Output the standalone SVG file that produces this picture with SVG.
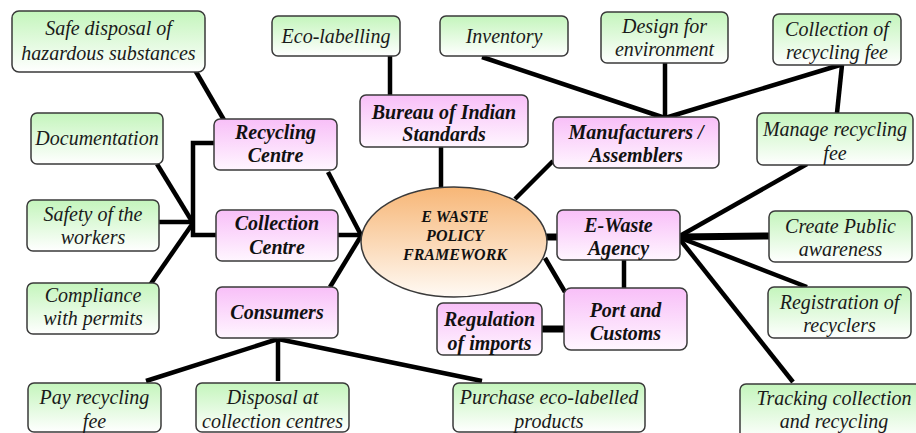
<svg xmlns="http://www.w3.org/2000/svg" width="916" height="433" viewBox="0 0 916 433">
<defs>
<linearGradient id="gG" x1="0" y1="0" x2="0" y2="1"><stop offset="0" stop-color="#c4f5bc"/><stop offset="1" stop-color="#ffffff"/></linearGradient>
<linearGradient id="gP" x1="0" y1="0" x2="0" y2="1"><stop offset="0" stop-color="#f8bff8"/><stop offset="1" stop-color="#fff6ff"/></linearGradient>
<linearGradient id="gO" x1="0" y1="0" x2="0" y2="1"><stop offset="0" stop-color="#f7b676"/><stop offset="1" stop-color="#fffaf4"/></linearGradient>
</defs>
<style>
.g{fill:url(#gG);stroke:#3a3a3a;stroke-width:1.5}
.p{fill:url(#gP);stroke:#3a3a3a;stroke-width:1.5}
.e{fill:url(#gO);stroke:#3a3a3a;stroke-width:1.5}
.tg{font-family:"Liberation Serif","Times New Roman",serif;font-style:italic;font-size:20px;fill:#1a1a1a;text-anchor:middle}
.tp{font-family:"Liberation Serif","Times New Roman",serif;font-style:italic;font-weight:bold;font-size:20px;fill:#111;text-anchor:middle}
.te{font-family:"Liberation Serif","Times New Roman",serif;font-style:italic;font-weight:bold;font-size:16px;fill:#111;text-anchor:middle}
.c line,.c polyline{stroke:#000;stroke-width:4.5;fill:none;stroke-linecap:butt}
.c .t{stroke-width:7}
</style>
<rect width="916" height="433" fill="#fff"/>
<g class="c" id="connectors">
<line x1="195" y1="70" x2="224" y2="120"/>
<polyline points="214,143 193,143 193,235 216,235"/>
<line x1="157" y1="164" x2="193" y2="223"/>
<line x1="159" y1="222" x2="193" y2="222"/>
<line x1="150" y1="285" x2="193" y2="223"/>
<line x1="328" y1="172" x2="361" y2="235"/>
<line x1="338" y1="235" x2="362" y2="235"/>
<line x1="330" y1="287" x2="361" y2="236"/>
<line x1="278" y1="339" x2="146" y2="381"/>
<line x1="278" y1="339" x2="278" y2="381"/>
<line x1="278" y1="339" x2="482" y2="381"/>
<line x1="390" y1="56" x2="390" y2="95"/>
<line x1="441" y1="147" x2="441" y2="188"/>
<line x1="515" y1="199" x2="553" y2="161"/>
<line x1="482" y1="57" x2="665" y2="118"/>
<line x1="665" y1="63" x2="665" y2="118"/>
<line x1="840" y1="65" x2="665" y2="118"/>
<line x1="842" y1="65" x2="837" y2="113"/>
<line class="t" x1="546" y1="237" x2="557" y2="237"/>
<line x1="545" y1="258" x2="565" y2="292"/>
<line x1="624" y1="260" x2="624" y2="288"/>
<line class="t" x1="542" y1="329" x2="564" y2="329"/>
<line x1="678" y1="237" x2="807" y2="164"/>
<line class="t" x1="678" y1="237" x2="769" y2="236"/>
<line x1="678" y1="237" x2="807" y2="287"/>
<line x1="678" y1="237" x2="793" y2="382"/>
</g>
<g id="safe"><rect class="g" x="12" y="11" width="193" height="61" rx="7"/><text class="tg" x="108.5" y="35">Safe disposal of</text><text class="tg" x="108.5" y="60">hazardous substances</text></g>
<g id="documentation"><rect class="g" x="31" y="113" width="132" height="51" rx="6"/><text class="tg" x="97" y="145">Documentation</text></g>
<g id="safety"><rect class="g" x="27" y="200" width="132" height="51" rx="6"/><text class="tg" x="93" y="221">Safety of the</text><text class="tg" x="93" y="244">workers</text></g>
<g id="compliance"><rect class="g" x="27" y="283" width="132" height="51" rx="6"/><text class="tg" x="93" y="302">Compliance</text><text class="tg" x="93" y="325">with permits</text></g>
<g id="eco"><rect class="g" x="272" y="16" width="128" height="40" rx="6"/><text class="tg" x="336" y="43">Eco-labelling</text></g>
<g id="inventory"><rect class="g" x="440" y="16" width="128" height="40" rx="6"/><text class="tg" x="504" y="43">Inventory</text></g>
<g id="design"><rect class="g" x="601" y="12" width="127" height="51" rx="6"/><text class="tg" x="664.5" y="33">Design for</text><text class="tg" x="664.5" y="56">environment</text></g>
<g id="collectionfee"><rect class="g" x="773" y="14" width="128" height="51" rx="6"/><text class="tg" x="837" y="36">Collection of</text><text class="tg" x="837" y="59">recycling fee</text></g>
<g id="manage"><rect class="g" x="757" y="113" width="156" height="52" rx="6"/><text class="tg" x="835" y="136">Manage recycling</text><text class="tg" x="835" y="160">fee</text></g>
<g id="create"><rect class="g" x="769" y="211" width="143" height="51" rx="6"/><text class="tg" x="840.5" y="233">Create Public</text><text class="tg" x="840.5" y="256">awareness</text></g>
<g id="registration"><rect class="g" x="768" y="287" width="143" height="51" rx="6"/><text class="tg" x="839.5" y="309">Registration of</text><text class="tg" x="839.5" y="332">recyclers</text></g>
<g id="tracking"><rect class="g" x="740" y="384" width="184" height="56" rx="6"/><text class="tg" x="834" y="405">Tracking collection</text><text class="tg" x="834" y="428">and recycling</text></g>
<g id="pay"><rect class="g" x="28" y="383" width="133" height="49" rx="6"/><text class="tg" x="94.5" y="404">Pay recycling</text><text class="tg" x="94.5" y="428">fee</text></g>
<g id="disposal"><rect class="g" x="196" y="383" width="153" height="49" rx="6"/><text class="tg" x="272.5" y="404">Disposal at</text><text class="tg" x="272.5" y="428">collection centres</text></g>
<g id="purchase"><rect class="g" x="453" y="383" width="192" height="49" rx="6"/><text class="tg" x="549" y="404">Purchase eco-labelled</text><text class="tg" x="549" y="428">products</text></g>
<g id="recycling"><rect class="p" x="214" y="119" width="123" height="51" rx="6"/><text class="tp" x="275.5" y="139">Recycling</text><text class="tp" x="275.5" y="162">Centre</text></g>
<g id="collection"><rect class="p" x="216" y="210" width="122" height="51" rx="6"/><text class="tp" x="277" y="230">Collection</text><text class="tp" x="277" y="254">Centre</text></g>
<g id="consumers"><rect class="p" x="216" y="287" width="122" height="51" rx="6"/><text class="tp" x="277" y="319">Consumers</text></g>
<g id="bureau"><rect class="p" x="360" y="95" width="168" height="52" rx="6"/><text class="tp" x="444" y="119">Bureau of Indian</text><text class="tp" x="444" y="141">Standards</text></g>
<g id="manufacturers"><rect class="p" x="553" y="117" width="166" height="51" rx="6"/><text class="tp" x="636" y="139">Manufacturers /</text><text class="tp" x="636" y="162">Assemblers</text></g>
<g id="agency"><rect class="p" x="557" y="210" width="123" height="50" rx="6"/><text class="tp" x="618.5" y="232">E-Waste</text><text class="tp" x="618.5" y="255">Agency</text></g>
<g id="port"><rect class="p" x="564" y="288" width="123" height="62" rx="7"/><text class="tp" x="625.5" y="317">Port and</text><text class="tp" x="625.5" y="340">Customs</text></g>
<g id="regulation"><rect class="p" x="437" y="303" width="105" height="52" rx="6"/><text class="tp" x="489.5" y="326">Regulation</text><text class="tp" x="489.5" y="350">of imports</text></g>
<g id="framework"><ellipse class="e" cx="454" cy="242" rx="93" ry="55"/><text class="te" x="455" y="222">E WASTE</text><text class="te" x="455" y="241">POLICY</text><text class="te" x="455" y="260">FRAMEWORK</text></g>
</svg>
